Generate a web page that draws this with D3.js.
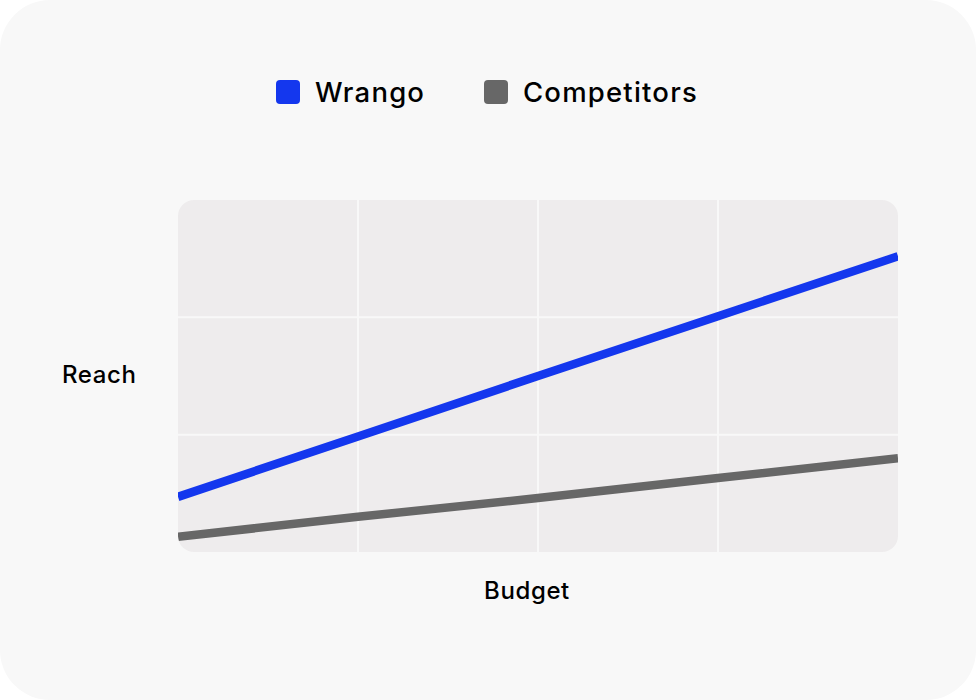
<!DOCTYPE html>
<html>
<head>
<meta charset="utf-8">
<script src="https://cdn.jsdelivr.net/npm/d3@7"></script>
<style>
  html, body { margin: 0; padding: 0; background: #ffffff; }
  svg { display: block; font-family: "Inter", "Noto Sans", sans-serif; }
</style>
</head>
<body>
<div id="chart"></div>
<script>
// budget steps along the x axis
const budgetSteps = [0, 1, 2, 3, 4];
// reach values
const wrangoReach = [4.7, 9.85, 15.0, 20.1, 25.2];
const competitorReach = [1.3, 3.0, 4.6, 6.3, 8.0];
const seriesNames = ["Wrango", "Competitors"];
const seriesColors = ["#1437ee", "#676767"];
const xGridTicks = [1, 2, 3];
const yGridTicks = [10, 20];

const width = 976, height = 700;
const plot = { left: 178, top: 200, right: 898, bottom: 552 };

const svg = d3.select("#chart").append("svg")
  .attr("width", width)
  .attr("height", height);

// card background
svg.append("rect")
  .attr("width", width).attr("height", height)
  .attr("rx", 50).attr("ry", 50)
  .attr("fill", "#f8f8f8");

const x = d3.scaleLinear().domain([0, 4]).range([plot.left, plot.right]);
const y = d3.scaleLinear().domain([0, 30]).range([plot.bottom, plot.top]);

svg.append("clipPath").attr("id", "plot-clip")
  .append("rect")
    .attr("x", plot.left).attr("y", plot.top)
    .attr("width", plot.right - plot.left)
    .attr("height", plot.bottom - plot.top)
    .attr("rx", 16).attr("ry", 16);

const g = svg.append("g").attr("clip-path", "url(#plot-clip)");

g.append("rect")
  .attr("x", plot.left).attr("y", plot.top)
  .attr("width", plot.right - plot.left)
  .attr("height", plot.bottom - plot.top)
  .attr("fill", "#eeeced");

// grid
g.selectAll(".vgrid")
  .data(xGridTicks)
  .join("line")
    .attr("class", "vgrid")
    .attr("x1", d => x(d)).attr("x2", d => x(d))
    .attr("y1", plot.top).attr("y2", plot.bottom)
    .attr("stroke", "#f8f8f8")
    .attr("stroke-width", 2);

g.selectAll(".hgrid")
  .data(yGridTicks)
  .join("line")
    .attr("class", "hgrid")
    .attr("x1", plot.left).attr("x2", plot.right)
    .attr("y1", d => y(d)).attr("y2", d => y(d))
    .attr("stroke", "#f8f8f8")
    .attr("stroke-width", 2);

const line = d3.line()
  .x((d, i) => x(budgetSteps[i]))
  .y(d => y(d));

// draw competitors first so Wrango sits on top
const series = [competitorReach, wrangoReach];
const colorsBySeries = [seriesColors[1], seriesColors[0]];

g.selectAll(".series")
  .data(series)
  .join("path")
    .attr("class", "series")
    .attr("d", line)
    .attr("fill", "none")
    .attr("stroke", (d, i) => colorsBySeries[i])
    .attr("stroke-width", 8.5);

// legend
const legendX = [276, 484];
const legend = svg.selectAll(".legend")
  .data(seriesNames)
  .join("g")
    .attr("class", "legend")
    .attr("transform", (d, i) => `translate(${legendX[i]},80)`);

legend.append("rect")
  .attr("width", 24).attr("height", 24)
  .attr("rx", 4).attr("ry", 4)
  .attr("fill", (d, i) => seriesColors[i]);

legend.append("text")
  .attr("x", 39)
  .attr("y", 21.5)
  .attr("font-size", 27.5)
  .attr("font-weight", 500)
  .attr("letter-spacing", 1.2)
  .attr("fill", "#000")
  .text(d => d);

// axis titles
svg.append("text")
  .attr("x", 62)
  .attr("y", 383)
  .attr("font-size", 24)
  .attr("font-weight", 500)
  .attr("letter-spacing", 0.6)
  .attr("fill", "#000")
  .text("Reach");

svg.append("text")
  .attr("x", 527)
  .attr("y", 599)
  .attr("text-anchor", "middle")
  .attr("font-size", 24)
  .attr("font-weight", 500)
  .attr("letter-spacing", 0.6)
  .attr("fill", "#000")
  .text("Budget");
</script>
</body>
</html>
